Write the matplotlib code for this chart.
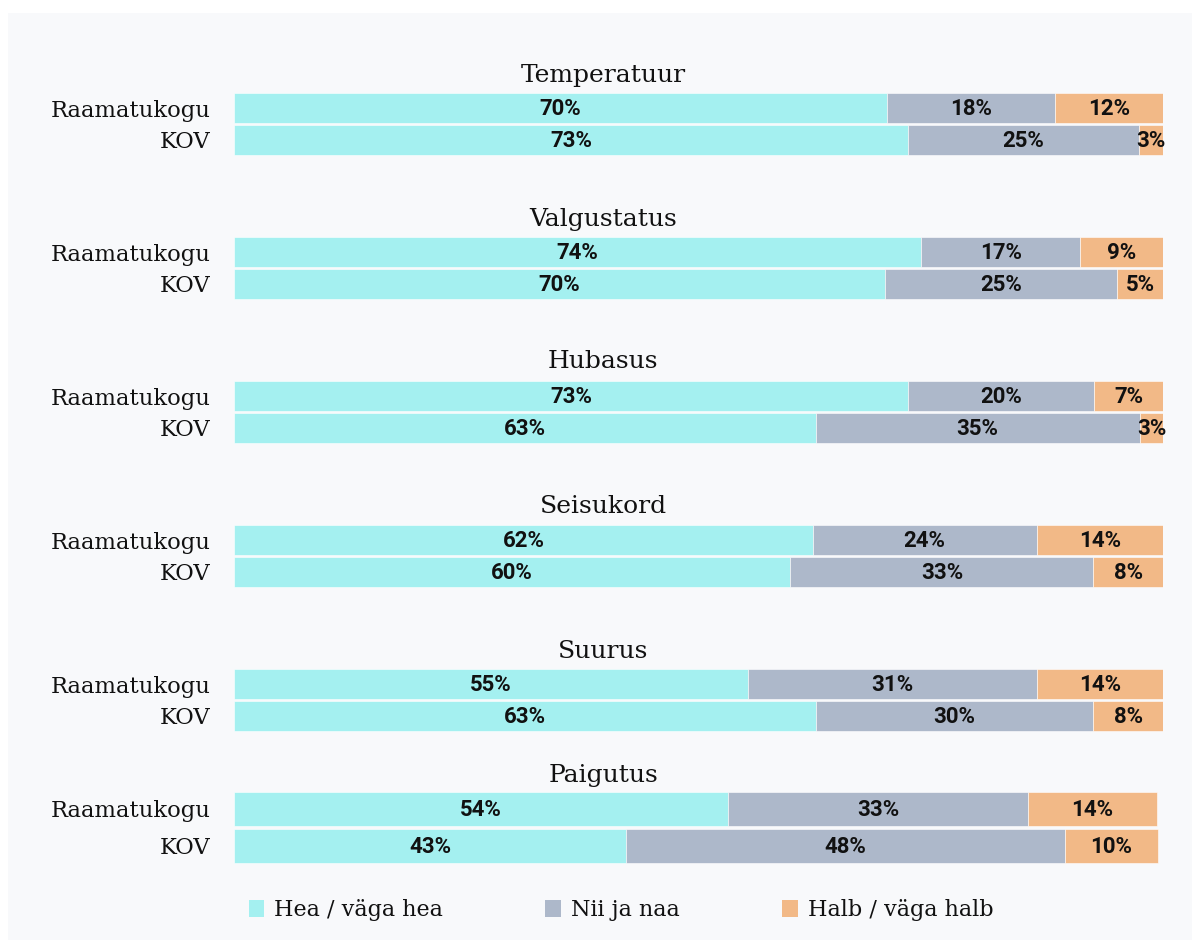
import matplotlib
matplotlib.use("Agg")
import matplotlib.pyplot as plt
from matplotlib.patches import Rectangle, Patch

# survey groups, top to bottom
groups = ["Temperatuur", "Valgustatus", "Hubasus", "Seisukord", "Suurus", "Paigutus"]
rows = ["Raamatukogu", "KOV"]
categories = ["Hea / väga hea", "Nii ja naa", "Halb / väga halb"]
colors = ["#a4f0f0", "#adb8ca", "#f2b987"]

# shares (%) per group: [Raamatukogu, KOV]
good = [[70.3, 72.6], [74.0, 70.1], [72.6, 62.6], [62.3, 59.9], [55.3, 62.6], [53.6, 42.6]]
neutral = [[18.1, 24.8], [17.1, 24.9], [20.0, 34.9], [24.1, 32.6], [31.1, 29.9], [32.6, 47.6]]
bad = [[11.6, 2.7], [8.9, 5.1], [7.4, 2.6], [13.6, 7.6], [13.6, 7.6], [14.0, 10.1]]

W, H = 1200, 942
fig = plt.figure(figsize=(W / 100, H / 100), dpi=100, facecolor="white")
fig.patches.append(Rectangle((8 / W, 1 - 940 / H), 1184 / W, 927 / H,
                             transform=fig.transFigure, facecolor="#f8f9fb",
                             edgecolor="none", zorder=-10))

serif = "DejaVu Serif"
bold = "Roboto"

# pixel layout of each group: (axes top, axes bottom)
boxes = [(92, 156), (236, 300), (380, 444), (524, 588), (668, 732), (790.5, 864.5)]
title_pads = [7, 7, 9, 8, 7, 6]
left, right = 234, 1163

for gi, name in enumerate(groups):
    top, bot = boxes[gi]
    ax = fig.add_axes([left / W, 1 - bot / H, (right - left) / W, (bot - top) / H])
    ax.set_facecolor("none")
    height = 0.94 if gi < 5 else 0.92
    starts = [0, 0]
    for ci, vals in enumerate([good[gi], neutral[gi], bad[gi]]):
        ax.barh([0, 1], vals, left=starts, height=height, color=colors[ci],
                edgecolor="white", linewidth=0.4)
        for ri in range(2):
            ax.text(starts[ri] + vals[ri] / 2, ri + 0.02, f"{vals[ri]:.0f}%",
                    ha="center", va="center", fontsize=16, fontweight="bold",
                    family=bold, color="#111111")
        starts = [starts[0] + vals[0], starts[1] + vals[1]]
    ax.set_xlim(0, 100 if gi < 5 else 100.85)
    ax.set_ylim(1.5, -0.5)
    ax.set_yticks([0, 1])
    ax.set_yticklabels(rows, family=serif, fontsize=16.3, color="#111111")
    ax.set_xticks([])
    ax.tick_params(axis="y", length=0, pad=17)
    for s in ax.spines.values():
        s.set_visible(False)
    ax.set_title(name, x=(603 - left) / (right - left), pad=title_pads[gi],
                 family=serif, fontsize=18, color="#111111")

handles = [Patch(facecolor=c, edgecolor="none") for c in colors]
fig.legend(handles, categories, loc="center", bbox_to_anchor=(621 / W, 1 - 910 / H),
           ncol=3, frameon=False, prop={"family": serif, "size": 16},
           handlelength=0.7, handleheight=0.8, handletextpad=0.45,
           columnspacing=4.6, labelcolor="#111111")

fig.savefig("out.png", dpi=100, facecolor="white")
